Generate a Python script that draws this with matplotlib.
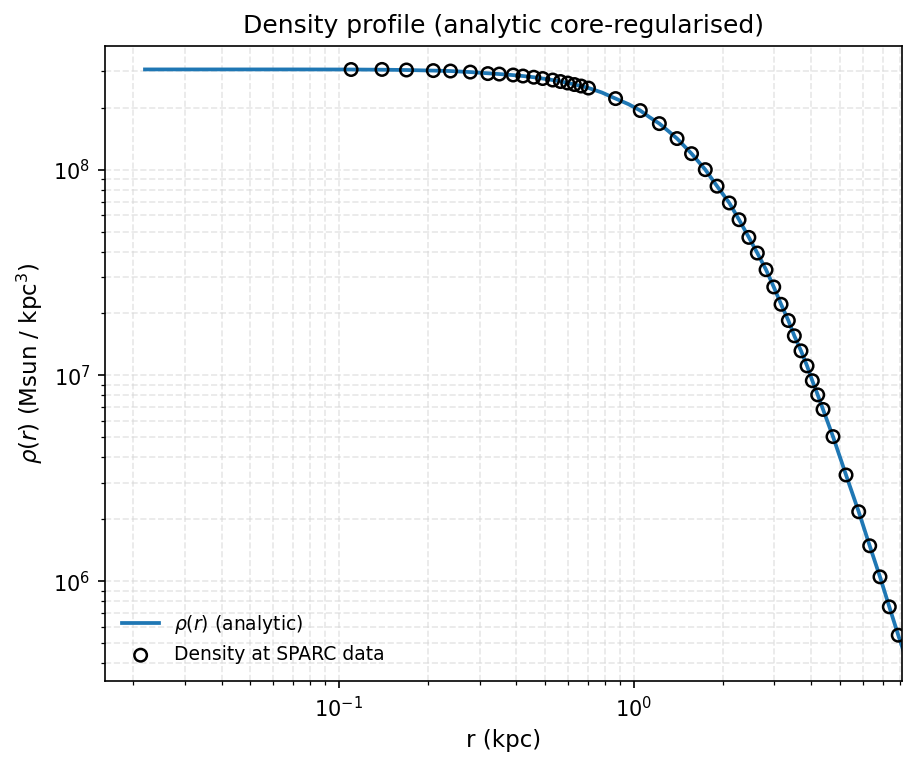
import matplotlib
matplotlib.use("Agg")
import matplotlib.pyplot as plt

# Data
r_data = [0.110, 0.140, 0.1695, 0.209, 0.239, 0.279, 0.320, 0.350, 0.390, 0.421,
          0.458, 0.491, 0.531, 0.564, 0.597, 0.629, 0.663, 0.702, 0.8675, 1.052,
          1.221, 1.402, 1.570, 1.748, 1.916, 2.109, 2.275, 2.456, 2.624, 2.809,
          2.983, 3.158, 3.343, 3.503, 3.690, 3.869, 4.031, 4.205, 4.383, 4.738,
          5.245, 5.791, 6.310, 6.838, 7.354, 7.886]
rho_data = [3.067e8, 3.07e8, 3.05e8, 3.03e8, 3.015e8, 2.98e8, 2.93e8, 2.915e8, 2.884e8, 2.851e8,
            2.813e8, 2.772e8, 2.726e8, 2.681e8, 2.636e8, 2.592e8, 2.549e8, 2.492e8, 2.215e8, 1.937e8,
            1.674e8, 1.416e8, 1.196e8, 1.0e8, 8.31e7, 6.887e7, 5.71e7, 4.685e7, 3.932e7, 3.262e7,
            2.69e7, 2.216e7, 1.848e7, 1.557e7, 1.316e7, 1.112e7, 9.42e6, 8.04e6, 6.83e6, 5.04e6,
            3.28e6, 2.174e6, 1.485e6, 1.049e6, 7.5e5, 5.46e5]

# Analytic curve samples
r_curve = [0.022, 0.04, 0.07, 0.110, 0.140, 0.1695, 0.209, 0.239, 0.279, 0.320, 0.350, 0.390,
           0.421, 0.458, 0.491, 0.531, 0.564, 0.597, 0.629, 0.663, 0.702, 0.78, 0.8675, 0.96,
           1.052, 1.13, 1.221, 1.31, 1.402, 1.570, 1.748, 1.916, 2.109, 2.275, 2.456, 2.624,
           2.809, 2.983, 3.158, 3.343, 3.503, 3.690, 3.869, 4.031, 4.205, 4.383, 4.738,
           5.245, 5.791, 6.310, 6.838, 7.354, 7.886, 8.5]
rho_curve = [3.07e8, 3.07e8, 3.07e8, 3.067e8, 3.06e8, 3.05e8, 3.03e8, 3.015e8, 2.98e8, 2.94e8,
             2.915e8, 2.88e8, 2.851e8, 2.813e8, 2.772e8, 2.726e8, 2.685e8, 2.64e8, 2.595e8,
             2.549e8, 2.495e8, 2.37e8, 2.215e8, 2.08e8, 1.937e8, 1.80e8, 1.674e8, 1.54e8,
             1.416e8, 1.196e8, 1.0e8, 8.31e7, 6.887e7, 5.71e7, 4.685e7, 3.932e7, 3.262e7,
             2.69e7, 2.216e7, 1.848e7, 1.557e7, 1.316e7, 1.112e7, 9.42e6, 8.04e6, 6.83e6,
             5.04e6, 3.28e6, 2.174e6, 1.485e6, 1.049e6, 7.5e5, 5.46e5, 3.95e5]

fig = plt.figure(figsize=(917 / 150, 767 / 150), dpi=150)
ax = fig.add_axes([105 / 917, 1 - 681 / 767, (902 - 105) / 917, (681 - 46) / 767])

ax.loglog(r_curve, rho_curve, color="#1f77b4", lw=1.8, label=r"$\rho(r)$ (analytic)", zorder=2)
ax.scatter(r_data, rho_data, s=36, facecolors="none", edgecolors="black", linewidths=1.2,
           label="Density at SPARC data", zorder=3)

ax.set_xlim(0.0161, 8.12)
ax.set_ylim(3.27e5, 3.99e8)
ax.grid(True, which="both", ls="--", lw=0.8, color="#d8d8d8", alpha=0.6)
ax.set_xlabel("r (kpc)", fontsize=11)
ax.set_ylabel(r"$\rho(r)$ (Msun / kpc$^3$)", fontsize=11)
ax.set_title("Density profile (analytic core-regularised)", fontsize=12)
ax.legend(loc="lower left", frameon=False, fontsize=9)

fig.savefig("out.png", dpi=150)
